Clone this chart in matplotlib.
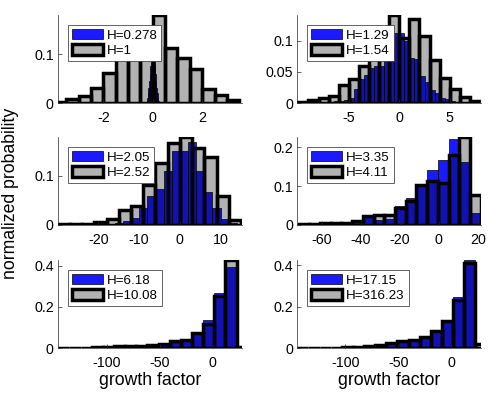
"""
Growth factor distributions for several H values
"""
import matplotlib.pyplot as plt
import numpy as np

plt.rcParams['font.family'] = ['Liberation Sans', 'DejaVu Sans']
plt.rcParams['axes.unicode_minus'] = False

###############################################################################
# Histogram data (normalized probability per bin).
# Each histogram is given by its first bin edge, bin width and bar heights.

# panel 1
blue1_label = 'H=0.278'
blue1_start, blue1_width = -0.25, 0.025
blue1_heights = [0.005, 0.01, 0.02, 0.03, 0.045, 0.06, 0.075, 0.085, 0.095, 0.1,
                 0.1, 0.095, 0.085, 0.075, 0.06, 0.045, 0.03, 0.02, 0.01, 0.005]
gray1_label = 'H=1'
gray1_start, gray1_width = -4.0, 0.5
gray1_heights = [0.003, 0.009, 0.014, 0.031, 0.062, 0.10, 0.13, 0.146, 0.18,
                 0.112, 0.093, 0.069, 0.029, 0.016, 0.006]

# panel 2
blue2_label = 'H=1.29'
blue2_start, blue2_width = -7.5, 0.5
blue2_heights = [0.002, 0.002, 0.003, 0.004, 0.005, 0.008, 0.023, 0.038, 0.045,
                 0.057, 0.06, 0.06, 0.089, 0.09, 0.112, 0.113, 0.1, 0.073, 0.07,
                 0.043, 0.034, 0.021, 0.016, 0.008, 0.006, 0.004]
gray2_label = 'H=1.54'
gray2_start, gray2_width = -10.0, 1.0
gray2_heights = [0.001, 0.005, 0.008, 0.012, 0.029, 0.039, 0.060, 0.09, 0.116,
                 0.141, 0.105, 0.134, 0.107, 0.069, 0.041, 0.022, 0.009, 0.004]

# panel 3
blue3_label = 'H=2.05'
blue3_start, blue3_width = -22.0, 2.0
blue3_heights = [0.001, 0.002, 0.003, 0.005, 0.009, 0.014, 0.034, 0.059, 0.074,
                 0.110, 0.150, 0.150, 0.168, 0.110, 0.067, 0.034, 0.012, 0.004]
gray3_label = 'H=2.52'
gray3_start, gray3_width = -30.0, 3.0
gray3_heights = [0.001, 0.002, 0.002, 0.007, 0.012, 0.031, 0.038, 0.081, 0.126,
                 0.167, 0.179, 0.157, 0.138, 0.060, 0.010]

# panel 4
blue4_label = 'H=3.35'
blue4_start, blue4_width = -72.0, 5.5
blue4_heights = [0.001, 0.002, 0.003, 0.005, 0.006, 0.01, 0.02, 0.013, 0.015,
                 0.05, 0.07, 0.1, 0.141, 0.167, 0.222, 0.161, 0.03]
gray4_label = 'H=4.11'
gray4_start, gray4_width = -72.0, 5.5
gray4_heights = [0.002, 0.002, 0.004, 0.004, 0.006, 0.009, 0.022, 0.026, 0.026,
                 0.043, 0.061, 0.102, 0.113, 0.107, 0.181, 0.226, 0.078]

# panel 5
blue5_label = 'H=6.18'
blue5_start, blue5_width = -145.5, 10.5
blue5_heights = [0.001, 0.001, 0.001, 0.002, 0.002, 0.004, 0.007, 0.01, 0.012,
                 0.014, 0.024, 0.032, 0.07, 0.136, 0.267, 0.395, 0.004]
gray5_label = 'H=10.08'
gray5_start, gray5_width = -145.5, 10.5
gray5_heights = [0.001, 0.001, 0.002, 0.003, 0.005, 0.008, 0.011, 0.011, 0.016,
                 0.021, 0.032, 0.04, 0.075, 0.117, 0.251, 0.427, 0.003]

# panel 6
blue6_label = 'H=17.15'
blue6_start, blue6_width = -145.5, 10.5
blue6_heights = [0.001, 0.001, 0.002, 0.002, 0.003, 0.004, 0.007, 0.012, 0.02,
                 0.03, 0.035, 0.05, 0.075, 0.125, 0.245, 0.424, 0.005]
gray6_label = 'H=316.23'
gray6_start, gray6_width = -145.5, 10.5
gray6_heights = [0.001, 0.001, 0.002, 0.002, 0.003, 0.005, 0.008, 0.013, 0.024,
                 0.032, 0.037, 0.053, 0.08, 0.128, 0.232, 0.408, 0.02]

x_limits = [(-3.83, 3.6), (-10.1, 8.1), (-29.9, 15.2),
            (-72.7, 21.7), (-145.7, 27.4), (-145.5, 28.0)]
x_ticks = [[-2, 0, 2], [-5, 0, 5], [-20, -10, 0, 10],
           [-60, -40, -20, 0, 20], [-100, -50, 0], [-100, -50, 0]]
y_ticks = [[0, 0.1], [0, 0.05, 0.1], [0, 0.1],
           [0, 0.1, 0.2], [0, 0.2, 0.4], [0, 0.2, 0.4]]

panels = [
    (blue1_start, blue1_width, blue1_heights, blue1_label,
     gray1_start, gray1_width, gray1_heights, gray1_label),
    (blue2_start, blue2_width, blue2_heights, blue2_label,
     gray2_start, gray2_width, gray2_heights, gray2_label),
    (blue3_start, blue3_width, blue3_heights, blue3_label,
     gray3_start, gray3_width, gray3_heights, gray3_label),
    (blue4_start, blue4_width, blue4_heights, blue4_label,
     gray4_start, gray4_width, gray4_heights, gray4_label),
    (blue5_start, blue5_width, blue5_heights, blue5_label,
     gray5_start, gray5_width, gray5_heights, gray5_label),
    (blue6_start, blue6_width, blue6_heights, blue6_label,
     gray6_start, gray6_width, gray6_heights, gray6_label),
]

###############################################################################
# Lay out a 3x2 grid of axes like the original MATLAB subplots.

fig = plt.figure(figsize=(4.98, 3.98), dpi=100)
lefts = [0.1165, 0.597]
bottoms = [0.741, 0.4347, 0.1256]
width, height = 0.369, 0.221
axis_color = '0.15'

for i, panel in enumerate(panels):
    (b_start, b_width, b_heights, b_label,
     g_start, g_width, g_heights, g_label) = panel
    ax = fig.add_axes([lefts[i % 2], bottoms[i // 2], width, height])

    b_edges = b_start + b_width * np.arange(len(b_heights))
    g_edges = g_start + g_width * np.arange(len(g_heights))

    blue = ax.bar(b_edges, b_heights, width=b_width, align='edge',
                  facecolor=(0.1, 0.1, 1.0), edgecolor='k', linewidth=0.5)
    gray = ax.bar(g_edges, g_heights, width=g_width, align='edge',
                  facecolor=(0, 0, 0, 0.3), edgecolor='k', linewidth=2.5)

    ax.set_xlim(*x_limits[i])
    ax.set_ylim(0, max(max(b_heights), max(g_heights)))
    ax.set_xticks(x_ticks[i])
    ax.set_yticks(y_ticks[i])
    ax.set_yticklabels([f'{t:g}' for t in y_ticks[i]])

    for side in ('top', 'right'):
        ax.spines[side].set_visible(False)
    for side in ('left', 'bottom'):
        ax.spines[side].set_color(axis_color)
        ax.spines[side].set_linewidth(0.5)
    ax.tick_params(direction='in', length=3, width=0.5, color=axis_color,
                   labelsize=10.3, labelcolor='k')
    ax.tick_params(axis='x', pad=6)
    ax.tick_params(axis='y', pad=3)

    leg = ax.legend([blue, gray], [b_label, g_label], loc='upper left',
                    bbox_to_anchor=(0.054, 0.89), borderaxespad=0,
                    fontsize=9.6, handlelength=2.3, handleheight=0.85,
                    handletextpad=0.3, labelspacing=0.2, borderpad=0.3,
                    fancybox=False, framealpha=1)
    leg.get_frame().set_edgecolor(axis_color)
    leg.get_frame().set_linewidth(0.5)

    if i >= 4:
        ax.set_xlabel('growth factor', fontsize=12.7, labelpad=1)

fig.text(0.022, 0.515, 'normalized probability', rotation=90,
         ha='center', va='center', fontsize=12.7)

fig.savefig('out.png', dpi=100)
